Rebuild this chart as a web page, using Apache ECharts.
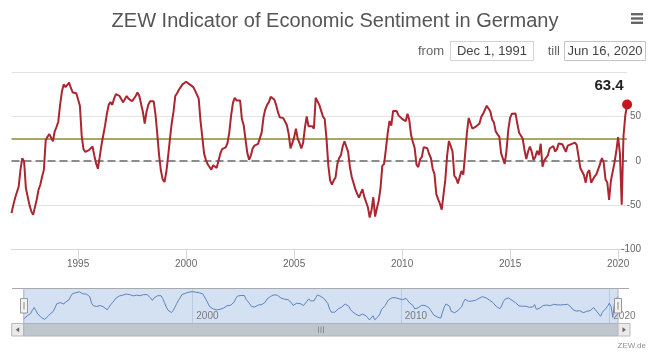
<!DOCTYPE html>
<html><head><meta charset="utf-8">
<script src="https://cdn.jsdelivr.net/npm/echarts@6/dist/echarts.min.js"></script>
<style>html,body{margin:0;padding:0;background:#fff}#chart{width:650px;height:353px}</style>
</head><body><div id="chart"></div>
<script>
// ---- data ----
const startYear = 1991, startMonth = 12;   // first observation: Dec 1991
const sentiment = [
  -59, // 1991-12
  -50, -42, -40, -29, -10, 3, -1, -31, -33, -50, -57, -61, // 1992
  -59, -44, -33, -27, -18, -10, 23, 27, 30, 31, 22, 33, // 1993
  38, 44, 63, 78, 86, 83, 84, 88, 82, 77, 76, 76, // 1994
  76, 62, 28, 13, 10, 9, 12, 14, 16, 6, -3, -9, // 1995
  4, 18, 29, 40, 53, 63, 66, 63, 70, 75, 76, 73, // 1996
  73, 66, 66, 73, 70, 69, 67, 68, 73, 77, 73, 64, // 1997
  55, 42, 55, 63, 67, 69, 67, 52, 30, 6, -11, -21, // 1998
  -24, -13, 5, 24, 42, 55, 73, 76, 80, 83, 86, 87, // 1999
  89, 87, 86, 84, 83, 79, 77, 70, 45, 27, 8, 1, // 2000
  -4, -7, -10, -5, -6, -8, 0, 8, 13, 12, 15, 20, // 2001
  32, 51, 65, 71, 68, 69, 68, 47, 40, 24, 9, 1, // 2002
  6, 14, 17, 18, 19, 21, 32, 49, 58, 63, 66, 72, // 2003
  73, 69, 63, 55, 49, 48, 48, 46, 40, 30, 14, 14, // 2004
  26, 36, 25, 20, 14, 20, 37, 50, 39, 39, 39, 36, // 2005
  71, 70, 63, 63, 50, 47, 25, -5, -22, -27, -22, -19, // 2006
  -4, 3, 6, 16, 22, 21, 10, -7, -18, -18, -32, -37, // 2007
  -41.6, -39.5, -32.0, -40.7, -41.4, -52.4, -63.9, -55.5, -41.1, -63.0, -53.5, -45.2, // 2008
  -31.0, -5.8, -3.5, 13.0, 31.1, 44.8, 39.5, 56.1, 57.7, 56.0, 51.1, 50.4, // 2009
  47.2, 45.1, 44.5, 53.0, 45.8, 28.7, 21.2, 14.0, -4.3, -7.2, 1.8, 4.3, // 2010
  15.4, 15.7, 14.1, 7.6, 3.1, -9.0, -15.1, -37.6, -43.3, -48.3, -55.2, -53.8, // 2011
  -21.6, 5.4, 22.3, 23.4, 10.8, -16.9, -19.6, -25.5, -18.2, -11.5, -15.7, 6.9, // 2012
  31.5, 48.2, 48.5, 36.3, 36.4, 38.5, 36.3, 42.0, 49.6, 52.8, 54.6, 62.0, // 2013
  61.7, 55.7, 46.6, 43.2, 33.1, 29.8, 27.1, 8.6, 6.9, -3.6, 11.5, 34.9, // 2014
  48.4, 53.0, 54.8, 53.3, 41.9, 31.5, 29.7, 25.0, 12.1, 1.9, 10.4, 16.1, // 2015
  10.2, 1.0, 4.3, 11.2, 6.4, 19.2, -6.8, 0.5, 0.5, 6.2, 13.8, 13.8, // 2016
  16.6, 10.4, 12.8, 19.5, 20.6, 18.6, 17.5, 10.0, 17.0, 17.6, 18.7, 17.4, // 2017
  20.4, 17.8, 5.1, -8.2, -8.2, -16.1, -24.7, -13.7, -10.6, -24.7, -24.1, -17.5, // 2018
  -15.0, -13.4, -3.6, 3.1, -2.1, -21.1, -24.5, -44.1, -22.5, -22.8, -2.1, 10.7, // 2019
  26.7, 8.7, -49.5, 28.2, 51.0, 63.4 // 2020
];
const zeroLine = 0;
const longTermAverage = 25;
const yMin = -100, yMax = 100, yStep = 50;
const mainTickYears = [1995, 2000, 2005, 2010, 2015, 2020];
const navTickYears = [2000, 2010, 2020];
const titleText = 'ZEW Indicator of Economic Sentiment in Germany';
const dateFrom = 'Dec 1, 1991', dateTill = 'Jun 16, 2020';
const creditText = 'ZEW.de';

// month categories "YYYY-MM"
const months = sentiment.map((_, i) => {
  const t = startYear * 12 + (startMonth - 1) + i;
  return Math.floor(t / 12) + '-' + String(t % 12 + 1).padStart(2, '0');
});
const lastIdx = sentiment.length - 1;
const isYearTick = (years) => (idx, val) => val.endsWith('-01') && years.includes(+val.slice(0, 4));

const FONT = "'Liberation Sans', Arial, sans-serif";
const chart = echarts.init(document.getElementById('chart'), null, { renderer: 'canvas' });

chart.setOption({
  animation: false,
  backgroundColor: '#fff',
  title: {
    text: titleText, left: 330, top: 6, textAlign: 'center',
    textStyle: { fontSize: 20, fontWeight: 'normal', color: '#555', fontFamily: FONT }
  },
  grid: [
    { left: 11.5, top: 72, width: 615.6, height: 177.5 },
    { left: 23.75, top: 288.3, width: 594.25, height: 35, show: true, backgroundColor: '#d3e1f3', borderWidth: 0 }
  ],
  xAxis: [
    {
      type: 'category', gridIndex: 0, data: months, boundaryGap: false,
      axisLine: { onZero: false, lineStyle: { color: '#cfd8e2', width: 1 } },
      axisTick: { show: true, interval: isYearTick(mainTickYears), length: 10, lineStyle: { color: '#cfd8e2' } },
      axisLabel: { interval: isYearTick(mainTickYears), formatter: v => v.slice(0, 4), color: '#666', fontSize: 10, margin: 10, fontFamily: FONT },
      splitLine: { show: false }
    },
    {
      type: 'category', gridIndex: 1, data: months, boundaryGap: false,
      axisLine: { show: false, onZero: false }, axisTick: { show: false },
      axisLabel: { inside: true, interval: isYearTick(navTickYears), formatter: v => v.slice(0, 4), align: 'left', padding: [0, 0, 0, 4], margin: 2, color: '#7a7a7a', fontSize: 10, fontFamily: FONT },
      splitLine: { show: true, interval: isYearTick(navTickYears), lineStyle: { color: 'rgba(140,160,190,0.35)', width: 1 } }
    }
  ],
  yAxis: [
    {
      type: 'value', gridIndex: 0, position: 'right', min: yMin, max: yMax, interval: yStep,
      axisLine: { show: false }, axisTick: { show: false },
      axisLabel: { showMaxLabel: false, color: '#666', fontSize: 10, align: 'right', margin: 14, padding: [0, 0, 8, 0], fontFamily: FONT },
      splitLine: { lineStyle: { color: '#e3e3e3', width: 1 } }
    },
    { type: 'value', gridIndex: 1, min: -82, max: 107, show: false }
  ],
  series: [
    {
      name: 'ZEW Economic Sentiment', type: 'line', xAxisIndex: 0, yAxisIndex: 0,
      data: sentiment, showSymbol: false, smooth: false, z: 3,
      lineStyle: { color: '#aa2630', width: 2 }, itemStyle: { color: '#aa2630' },
      markLine: {
        z: 1, silent: true, symbol: 'none', label: { show: false }, animation: false,
        data: [
          { yAxis: zeroLine, lineStyle: { type: [8, 4], color: '#8c8c8c', width: 2 } },
          { yAxis: longTermAverage, lineStyle: { type: 'solid', color: '#8e8a36', width: 1.5 } }
        ]
      },
      markPoint: {
        silent: true, animation: false,
        data: [{
          coord: [months[lastIdx], sentiment[lastIdx]], value: sentiment[lastIdx],
          symbol: 'circle', symbolSize: 10, itemStyle: { color: '#c8161e' },
          label: { show: true, position: 'top', distance: 6, offset: [-18, 0], formatter: String(sentiment[lastIdx]), fontSize: 15, fontWeight: 'bold', color: '#222', fontFamily: FONT }
        }]
      }
    },
    {
      name: 'Navigator', type: 'line', xAxisIndex: 1, yAxisIndex: 1,
      data: sentiment, showSymbol: false, silent: true,
      lineStyle: { color: '#5c82bf', width: 1 }
    }
  ],
  graphic: { elements: [
    // export menu icon
    { type: 'rect', shape: { x: 631, y: 13, width: 12, height: 2.4 }, style: { fill: '#666' } },
    { type: 'rect', shape: { x: 631, y: 17.3, width: 12, height: 2.4 }, style: { fill: '#666' } },
    { type: 'rect', shape: { x: 631, y: 21.6, width: 12, height: 2.4 }, style: { fill: '#666' } },
    // range selector inputs
    { type: 'text', x: 444, y: 51.5, style: { text: 'from', fill: '#666', font: '13px ' + FONT, textAlign: 'right', textVerticalAlign: 'middle' } },
    { type: 'rect', shape: { x: 450.5, y: 41.5, width: 83, height: 19 }, style: { fill: '#fff', stroke: '#d4d4d4', lineWidth: 1 } },
    { type: 'text', x: 492, y: 51.5, style: { text: dateFrom, fill: '#444', font: '13px ' + FONT, textAlign: 'center', textVerticalAlign: 'middle' } },
    { type: 'text', x: 560, y: 51.5, style: { text: 'till', fill: '#666', font: '13px ' + FONT, textAlign: 'right', textVerticalAlign: 'middle' } },
    { type: 'rect', shape: { x: 564.5, y: 41.5, width: 81, height: 19 }, style: { fill: '#fff', stroke: '#c4c4c4', lineWidth: 1 } },
    { type: 'text', x: 605, y: 51.5, style: { text: dateTill, fill: '#444', font: '13px ' + FONT, textAlign: 'center', textVerticalAlign: 'middle' } },
    // navigator outline
    { type: 'line', z: 10, shape: { x1: 12, y1: 288.5, x2: 629, y2: 288.5 }, style: { stroke: '#a9a9ad', lineWidth: 1 } },
    { type: 'line', z: 10, shape: { x1: 23.75, y1: 288.5, x2: 23.75, y2: 323.3 }, style: { stroke: '#b2b1b6', lineWidth: 1 } },
    { type: 'line', z: 10, shape: { x1: 618, y1: 288.5, x2: 618, y2: 323.3 }, style: { stroke: '#b2b1b6', lineWidth: 1 } },
    // navigator handles
    { type: 'rect', z: 11, shape: { x: 20.5, y: 298.5, width: 7, height: 14.5 }, style: { fill: '#f2f2f2', stroke: '#999', lineWidth: 1 } },
    { type: 'line', z: 12, shape: { x1: 24, y1: 302, x2: 24, y2: 309.5 }, style: { stroke: '#888', lineWidth: 1 } },
    { type: 'rect', z: 11, shape: { x: 614.5, y: 298.5, width: 7, height: 14.5 }, style: { fill: '#f2f2f2', stroke: '#999', lineWidth: 1 } },
    { type: 'line', z: 12, shape: { x1: 618, y1: 302, x2: 618, y2: 309.5 }, style: { stroke: '#888', lineWidth: 1 } },
    // scrollbar
    { type: 'rect', z: 10, shape: { x: 11.7, y: 323.5, width: 12, height: 12.5 }, style: { fill: '#ebe9ea', stroke: '#bbb', lineWidth: 1 } },
    { type: 'polygon', z: 11, shape: { points: [[15.7, 329.75], [19.2, 327.2], [19.2, 332.3]] }, style: { fill: '#666' } },
    { type: 'rect', z: 10, shape: { x: 23.75, y: 323.5, width: 594.25, height: 12.5 }, style: { fill: '#c0c6ce', stroke: '#aeb3ba', lineWidth: 1 } },
    { type: 'line', z: 11, shape: { x1: 318.5, y1: 326.5, x2: 318.5, y2: 333 }, style: { stroke: '#8a8e94', lineWidth: 1 } },
    { type: 'line', z: 11, shape: { x1: 321, y1: 326.5, x2: 321, y2: 333 }, style: { stroke: '#8a8e94', lineWidth: 1 } },
    { type: 'line', z: 11, shape: { x1: 323.5, y1: 326.5, x2: 323.5, y2: 333 }, style: { stroke: '#8a8e94', lineWidth: 1 } },
    { type: 'rect', z: 10, shape: { x: 618, y: 323.5, width: 12, height: 12.5 }, style: { fill: '#ebe9ea', stroke: '#bbb', lineWidth: 1 } },
    { type: 'polygon', z: 11, shape: { points: [[626, 329.75], [622.5, 327.2], [622.5, 332.3]] }, style: { fill: '#666' } },
    // credits
    { type: 'text', x: 646, y: 346, style: { text: creditText, fill: '#8f8f8f', font: '8px ' + FONT, textAlign: 'right', textVerticalAlign: 'middle' } }
  ] }
});
</script></body></html>
